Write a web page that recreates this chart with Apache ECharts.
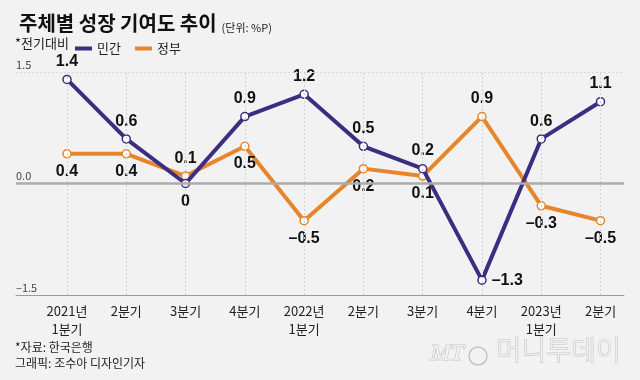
<!DOCTYPE html>
<html><head><meta charset="utf-8">
<script src="https://cdn.jsdelivr.net/npm/echarts@6/dist/echarts.min.js"></script>
<style>html,body{margin:0;padding:0;background:#f2f2f2;}#c{width:640px;height:380px;}</style>
</head><body><div id="c"></div>
<script>
const categories = ['2021년\n1분기','2분기','3분기','4분기','2022년\n1분기','2분기','3분기','4분기','2023년\n1분기','2분기'];
const privateVals = [1.4, 0.6, 0, 0.9, 1.2, 0.5, 0.2, -1.3, 0.6, 1.1];
const govVals = [0.4, 0.4, 0.1, 0.5, -0.5, 0.2, 0.1, 0.9, -0.3, -0.5];
const yTicks = [-1.5, 0, 1.5];
const privateLabelPos = ['top','top','bottom','top','top','top','top','right','top','top'];
const govLabelPos = ['bottom','bottom','top','bottom','bottom','bottom','bottom','top','bottom','bottom'];

const PURPLE = '#3b2e80', ORANGE = '#e6852b';
const NUMFONT = '"Liberation Sans", "Noto Sans CJK KR", sans-serif';
const KFONT = '"Noto Sans CJK KR", sans-serif';
const fmt = v => (v < 0 ? '–' + Math.abs(v) : String(v));
const idx = categories.map((c, i) => i);

function mkData(vals, pos) {
  return vals.map((v, i) => ({ value: [i, v], label: { position: pos[i] } }));
}

const chart = echarts.init(document.getElementById('c'), null, { renderer: 'canvas' });
chart.setOption({
  backgroundColor: '#f2f2f2',
  animation: false,
  title: {
    left: 14, top: 8,
    text: '{a|주체별 성장 기여도 추이} {b|(단위: %P)}',
    textStyle: {
      rich: {
        a: { fontFamily: KFONT, fontSize: 20, fontWeight: 'bold', color: '#111' },
        b: { fontFamily: KFONT, fontSize: 11, fontWeight: 'normal', color: '#222', verticalAlign: 'bottom', padding: [6, 0, 0, 0] }
      }
    }
  },
  legend: {
    left: 70, top: 37,
    icon: 'rect', itemWidth: 17, itemHeight: 4, itemGap: 14,
    textStyle: { fontFamily: KFONT, fontSize: 13, color: '#222' },
    data: [
      { name: '민간', itemStyle: { color: PURPLE, borderWidth: 0 } },
      { name: '정부', itemStyle: { color: ORANGE, borderWidth: 0 } }
    ]
  },
  graphic: [
    { type: 'text', left: 15, top: 37, style: { text: '*전기대비', font: '13px ' + KFONT, fill: '#222' } },
    { type: 'text', left: 15, top: 341, style: { text: '*자료: 한국은행', font: '12px ' + KFONT, fill: '#222' } },
    { type: 'text', left: 15, top: 357, style: { text: '그래픽: 조수아 디자인기자', font: '12px ' + KFONT, fill: '#222' } },
    { type: 'text', left: 430, top: 341, style: { text: 'MT', font: 'italic 24px "Liberation Serif", serif', fill: '#f2f2f2', stroke: '#c4c4c4', lineWidth: 1.2 } },
    { type: 'circle', shape: { cx: 478, cy: 356, r: 9 }, style: { fill: 'none', stroke: '#c4c4c4', lineWidth: 1.5 } },
    { type: 'text', left: 496, top: 336, style: { text: '머니투데이', font: '300 27px ' + KFONT, fill: '#f2f2f2', stroke: '#c4c4c4', lineWidth: 1.2 } }
  ],
  grid: { left: 16, right: 16, top: 72, bottom: 85, containLabel: false },
  xAxis: {
    type: 'value', min: -0.86, max: 9.396,
    axisLine: { show: true, onZero: false, lineStyle: { color: '#9a9a9a', width: 1 } },
    axisTick: { show: false },
    splitLine: { show: false },
    axisLabel: {
      customValues: idx,
      formatter: v => categories[Math.round(v)],
      fontFamily: KFONT, fontSize: 13, color: '#222', lineHeight: 18, margin: 7
    }
  },
  yAxis: {
    type: 'value', min: -1.5, max: 1.5, interval: 1.5,
    axisLine: { show: false }, axisTick: { show: false }, splitLine: { show: false },
    axisLabel: {
      inside: true, align: 'left', verticalAlign: 'bottom', margin: 0, padding: [0, 0, 2, 0],
      fontFamily: KFONT, fontSize: 11, color: '#444',
      formatter: v => (v < 0 ? '–' + Math.abs(v).toFixed(1) : v.toFixed(1))
    }
  },
  series: [
    {
      type: 'line', data: [], silent: true, z: 1,
      markLine: {
        silent: true, symbol: 'none', label: { show: false },
        data: idx.map(i => ({ xAxis: i, lineStyle: { color: '#d2d2d2', type: [2, 2], width: 1 } }))
          .concat([
            { yAxis: yTicks[2], lineStyle: { color: '#d8d8d8', type: [2, 2], width: 1 } },
            { yAxis: yTicks[1], lineStyle: { color: '#ababab', type: 'solid', width: 2.5 } }
          ])
      }
    },
    {
      name: '정부', type: 'line', z: 3, data: mkData(govVals, govLabelPos),
      color: ORANGE,
      lineStyle: { color: ORANGE, width: 4 },
      symbol: 'circle', symbolSize: 8,
      itemStyle: { color: '#fff', borderColor: ORANGE, borderWidth: 1.5 },
      label: { show: true, fontFamily: NUMFONT, fontSize: 16, fontWeight: 'bold', color: '#111', distance: 5,
        formatter: p => fmt(p.value[1]) }
    },
    {
      name: '민간', type: 'line', z: 4, data: mkData(privateVals, privateLabelPos),
      color: PURPLE,
      lineStyle: { color: PURPLE, width: 4 },
      symbol: 'circle', symbolSize: 8,
      itemStyle: { color: '#fff', borderColor: PURPLE, borderWidth: 1.5 },
      label: { show: true, fontFamily: NUMFONT, fontSize: 16, fontWeight: 'bold', color: '#111', distance: 5,
        formatter: p => fmt(p.value[1]) }
    }
  ]
});
</script></body></html>
